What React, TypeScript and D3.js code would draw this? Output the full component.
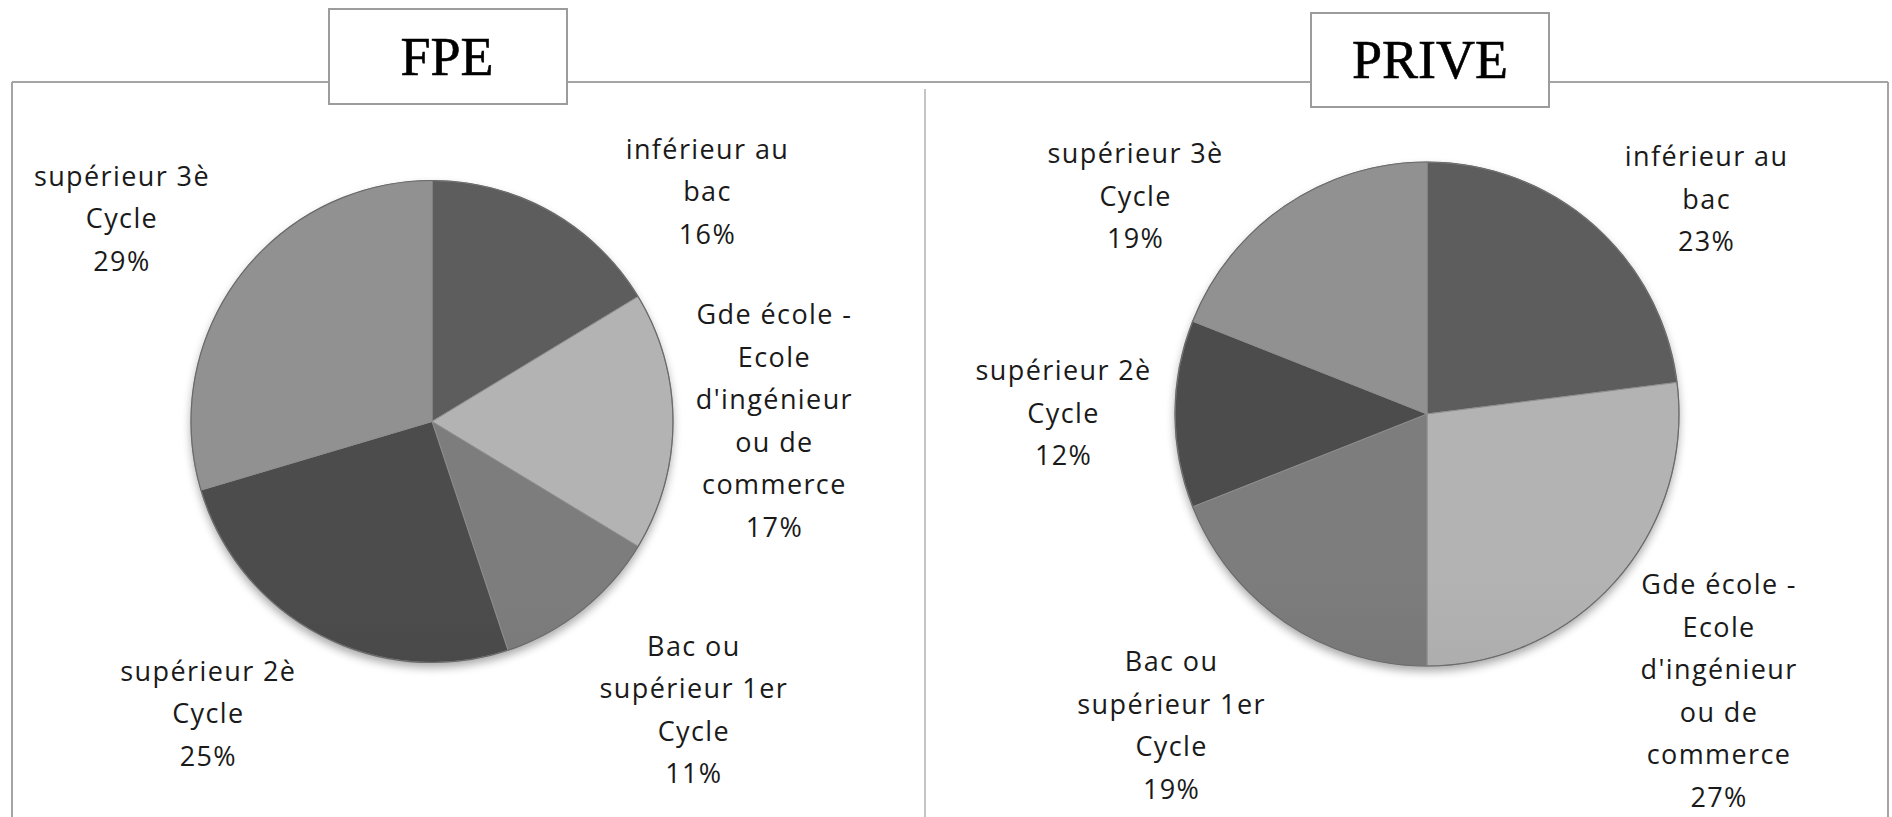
import React from 'react';
import * as d3 from 'd3';

// categories, clockwise from 12 o'clock
const categories = [
  'inférieur au bac',
  "Gde école - Ecole d'ingénieur ou de commerce",
  'Bac ou supérieur 1er Cycle',
  'supérieur 2è Cycle',
  'supérieur 3è Cycle',
];
const labelLines = [
  ['inférieur au', 'bac'],
  ['Gde école -', 'Ecole', "d'ingénieur", 'ou de', 'commerce'],
  ['Bac ou', 'supérieur 1er', 'Cycle'],
  ['supérieur 2è', 'Cycle'],
  ['supérieur 3è', 'Cycle'],
];
const fpeValues = [16, 17, 11, 25, 29];
const priveValues = [23, 27, 19, 12, 19];

// top / bottom of each slice gradient
const sliceColors = [
  ['#5d5d5d', '#484848'],
  ['#b3b3b3', '#959595'],
  ['#7d7d7d', '#616161'],
  ['#4c4c4c', '#373737'],
  ['#919191', '#747474'],
];

const W = 1892;
const H = 817;
const LINE_H = 42.5;
const LABEL_FONT = '"Open Sans", "Noto Sans", sans-serif';

const panels = [
  {
    id: 'fpe',
    title: 'FPE',
    values: fpeValues,
    cx: 432, cy: 421.5, r: 241,
    box: { x: 329, y: 9, w: 238, h: 95 },
    titleX: 447, titleY: 75,
    // label shift from the outer centroid
    nudges: [[104, 74], [-7, -1], [44, 15], [-62, -18], [-30, 6]],
  },
  {
    id: 'prive',
    title: 'PRIVE',
    values: priveValues,
    cx: 1427, cy: 414, r: 252,
    box: { x: 1311, y: 13, w: 238, h: 94 },
    titleX: 1430, titleY: 78,
    nudges: [[38, 59], [18, 35], [-50, 9], [2, -1.5], [-86, 84]],
  },
];

function PiePanel({ p }: { p: typeof panels[number] }) {
  const pie = d3.pie<number>().sort(null).value(d => d);
  const arcs = pie(p.values);
  const arcGen = d3.arc<d3.PieArcDatum<number>>().innerRadius(0).outerRadius(p.r);
  const labelR = p.r * 1.45;
  const labelArc = d3.arc<d3.PieArcDatum<number>>().innerRadius(labelR).outerRadius(labelR);

  return (
    <g>
      <defs>
        {sliceColors.map((c, i) => (
          <linearGradient key={i} id={`${p.id}-g${i}`} gradientUnits="userSpaceOnUse"
            x1={0} y1={p.cy - p.r} x2={0} y2={p.cy + p.r}>
            <stop offset="0%" stopColor={c[0]} />
            <stop offset="100%" stopColor={c[1]} />
          </linearGradient>
        ))}
      </defs>

      {/* soft shadow under the pie */}
      <circle cx={p.cx} cy={p.cy + 5} r={p.r} fill="#000" opacity={0.35} filter="url(#pieShadow)" />

      <g transform={`translate(${p.cx},${p.cy})`}>
        {arcs.map((a, i) => (
          <path key={categories[i]} d={arcGen(a) || ''} fill={`url(#${p.id}-g${i})`}
            stroke="#8e8e8e" strokeWidth={1} />
        ))}
        <circle r={p.r} fill="none" stroke="#6a6a6a" strokeWidth={1.2} />
      </g>

      {arcs.map((a, i) => {
        const [x, y] = labelArc.centroid(a);
        const lx = p.cx + x + p.nudges[i][0];
        const ly = p.cy + y + p.nudges[i][1];
        const lines = [...labelLines[i], `${p.values[i]}%`];
        const y0 = ly - ((lines.length - 1) * LINE_H) / 2 + 10;
        return (
          <text key={categories[i]} x={lx} y={y0} textAnchor="middle" fontFamily={LABEL_FONT}
            fontSize={27} letterSpacing={1.4} fill="#1a1a1a">
            {lines.map((t, j) => (
              <tspan key={j} x={lx} y={y0 + j * LINE_H}>{t}</tspan>
            ))}
          </text>
        );
      })}
    </g>
  );
}

export default function App() {
  return (
    <svg width={W} height={H} style={{ position: 'absolute', left: 0, top: 0, display: 'block', background: '#fff' }}>
      <defs>
        <filter id="pieShadow" x="-20%" y="-20%" width="140%" height="140%">
          <feGaussianBlur stdDeviation={5} />
        </filter>
      </defs>

      {/* frame */}
      <line x1={12} y1={82} x2={1888} y2={82} stroke="#a4a4a4" strokeWidth={2} />
      <line x1={12} y1={82} x2={12} y2={H} stroke="#a4a4a4" strokeWidth={2} />
      <line x1={1888} y1={82} x2={1888} y2={H} stroke="#a4a4a4" strokeWidth={2} />
      <line x1={925} y1={89} x2={925} y2={H} stroke="#c4c4c4" strokeWidth={2} />

      {panels.map(p => (
        <PiePanel key={p.id} p={p} />
      ))}

      {/* title boxes */}
      {panels.map(p => (
        <g key={p.id + '-title'}>
          <rect x={p.box.x} y={p.box.y} width={p.box.w} height={p.box.h} fill="#fff"
            stroke="#9c9c9c" strokeWidth={2} />
          <text x={p.titleX} y={p.titleY} textAnchor="middle" fontFamily='"Liberation Serif", "Times New Roman", serif'
            fontSize={54} fill="#000" stroke="#000" strokeWidth={0.6}>{p.title}</text>
        </g>
      ))}
    </svg>
  );
}
